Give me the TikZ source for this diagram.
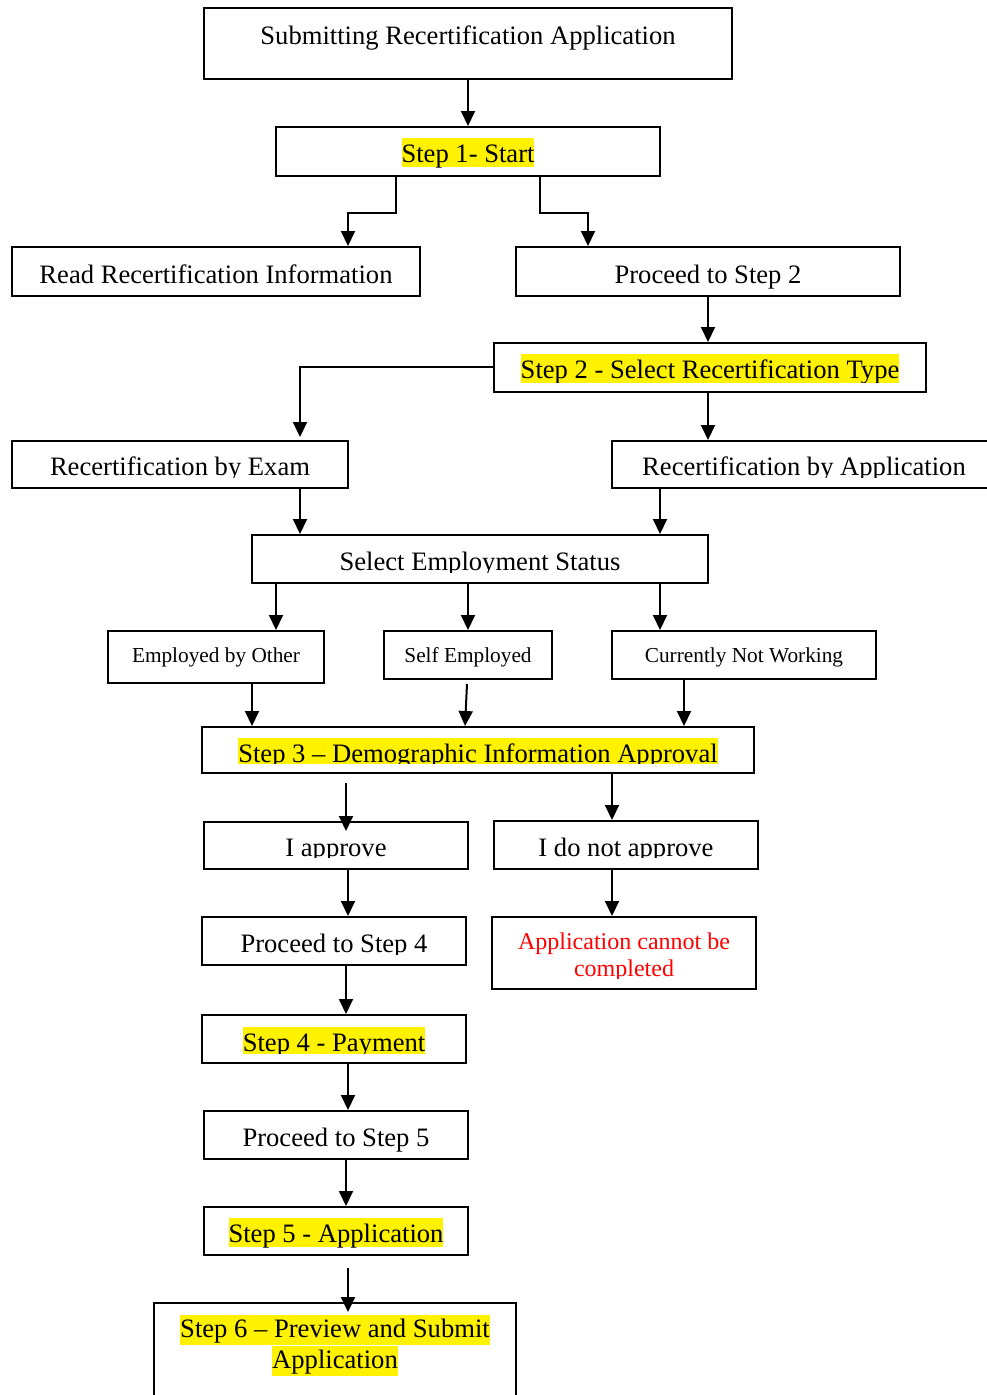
\documentclass[tikz,border=0pt]{standalone}
\usepackage{fontspec}
\setmainfont{Liberation Serif}
\usetikzlibrary{arrows.meta,calc}
\tikzset{
  box/.style={draw=black, line width=2pt, inner sep=0pt},
  arr/.style={line width=2pt, -{Triangle[length=15pt,width=14pt]}},
  txt/.style={anchor=base, inner sep=0pt, font=\fontsize{26.6pt}{31pt}\selectfont},
  hl/.style={txt, fill=yellow, text height=24pt, text depth=4.5pt},
  sm/.style={anchor=base, inner sep=0pt, font=\fontsize{21.3pt}{26pt}\selectfont},
  redtxt/.style={anchor=base, inner sep=0pt, text=red, font=\fontsize{24pt}{27pt}\selectfont}
}
\newcommand\bx[5]{\node[box,minimum width={(#4-#2)*1pt},minimum height={(#5-#3)*1pt}] (#1) at ({(#2+#4)/2},{(#3+#5)/2}) {};}
\begin{document}
\begin{tikzpicture}[x=1pt,y=-1pt]
\useasboundingbox (0,0) rectangle (987,1395);
% boxes
\bx{A}{204}{8}{732}{79}
\bx{s1}{276}{127}{660}{175.5}
\bx{read}{12}{247}{420}{295.5}
\bx{p2}{516}{247}{900}{295.5}
\bx{s2}{494}{343}{926}{391.5}
\bx{exam}{12}{441}{348}{488}
\bx{app}{612}{441}{996}{488}
\bx{emp}{252}{535}{708}{583}
\bx{eo}{108}{631}{324}{683}
\bx{se}{384}{631}{552}{679}
\bx{cnw}{612}{631}{876}{679}
\bx{s3}{202}{727}{754}{773}
\bx{ia}{204}{822}{468}{869}
\bx{ina}{494}{821}{758}{869}
\bx{p4}{202}{917}{466}{965}
\bx{cant}{492}{917}{756}{989}
\bx{s4}{202}{1015}{466}{1063}
\bx{p5}{204}{1111}{468}{1159}
\bx{s5}{204}{1207}{468}{1255}
\bx{s6}{154}{1303}{516}{1420}
% texts
\node[txt] (tA) at (468,44) {Submitting Recertification Application};
\node[hl] (ts1) at (468,162) {Step 1- Start};
\node[txt] (tread) at (216,283) {Read Recertification Information};
\node[txt] (tp2) at (708,283) {Proceed to Step 2};
\begin{scope}\clip (494,343) rectangle (926,382);
\node[hl] (ts2) at (710,378) {Step 2 - Select Recertification Type};
\end{scope}
\begin{scope}\clip (0,441) rectangle (987,477.5);
\node[txt] (texam) at (180,475) {Recertification by Exam};
\node[txt] (tapp) at (804,475) {Recertification by Application};
\end{scope}
\begin{scope}\clip (252,535) rectangle (708,572.5);
\node[txt] (temp) at (480,570) {Select Employment Status};
\end{scope}
\node[sm] (teo) at (216,662) {Employed by Other};
\node[sm] (tse) at (468,662) {Self Employed};
\node[sm] (tcnw) at (744,662) {Currently Not Working};
\begin{scope}\clip (202,727) rectangle (754,763.5);
\node[hl] (ts3) at (478,762) {Step 3 -- Demographic Information Approval};
\end{scope}
\begin{scope}\clip (202,821) rectangle (760,857.5);
\node[txt] (tia) at (336,856) {I approve};
\node[txt] (tina) at (626,856) {I do not approve};
\end{scope}
\begin{scope}\clip (202,917) rectangle (466,954);
\node[txt] (tp4) at (334,952) {Proceed to Step 4};
\end{scope}
\begin{scope}\clip (492,917) rectangle (756,978);
\node[redtxt] (tcant1) at (624,949.5) {Application cannot be};
\node[redtxt] (tcant2) at (624,976) {completed};
\end{scope}
\begin{scope}\clip (202,1015) rectangle (466,1053.5);
\node[hl] (ts4) at (334,1051) {Step 4 - Payment};
\end{scope}
\node[txt] (tp5) at (336,1146) {Proceed to Step 5};
\node[hl] (ts5) at (336,1242) {Step 5 - Application};
\node[hl, text height=23pt, text depth=7.7pt] (ts6a) at (335,1337.5) {Step 6 -- Preview and Submit};
\node[hl, text height=23pt, text depth=7.5pt] (ts6b) at (335,1368.5) {Application};
% connectors
\draw[arr] (A.south) -- (s1.north);
\draw[arr] ($(s1.south)+(-72,0)$) -- ++(0,36) -| ($(read.north)+(132,0)$);
\draw[arr] ($(s1.south)+(72,0)$) -- ++(0,36) -| ($(p2.north)+(-120,0)$);
\draw[arr] (p2.south) -- (p2.south |- s2.north);
\draw[arr] (s2.west) -| ($(exam.north)+(120,-3)$);
\draw[arr] (p2.south |- s2.south) -- (p2.south |- app.north);
\draw[arr] ($(exam.south)+(120,0)$) -- ($(emp.north)+(-180,0)$);
\draw[arr] ($(app.south)+(-144,0)$) -- ($(emp.north)+(180,0)$);
\draw[arr] ($(emp.south)+(-204,0)$) -- ($(eo.north)+(60,0)$);
\draw[arr] ($(emp.south)+(-12,0)$) -- (se.north);
\draw[arr] ($(emp.south)+(180,0)$) -- ($(cnw.north)+(-84,0)$);
\draw[arr] ($(eo.south)+(36,0)$) -- ($(s3.north)+(-226,0)$);
\draw[arr] ($(se.south)+(-1,4)$) -- ($(s3.north)+(-13,0)$);
\draw[arr] ($(cnw.south)+(-60,0)$) -- ($(s3.north)+(206,0)$);
\coordinate (c1) at (346,783);
\draw[arr] (c1) -- ($(ia.north)+(10,10)$);
\draw[arr] ($(s3.south)+(134,0)$) -- ($(ina.north)+(-14,0)$);
\draw[arr] ($(ia.south)+(12,0)$) -- ($(p4.north)+(14,0)$);
\draw[arr] ($(ina.south)+(-14,0)$) -- ($(cant.north)+(-12,0)$);
\draw[arr] ($(p4.south)+(12,0)$) -- ($(s4.north)+(12,0)$);
\draw[arr] ($(s4.south)+(14,0)$) -- ($(p5.north)+(12,0)$);
\draw[arr] ($(p5.south)+(10,0)$) -- ($(s5.north)+(10,0)$);
\coordinate (c2) at (348,1268);
\draw[arr] (c2) -- ($(s6.north)+(13,10)$);
\end{tikzpicture}
\end{document}
